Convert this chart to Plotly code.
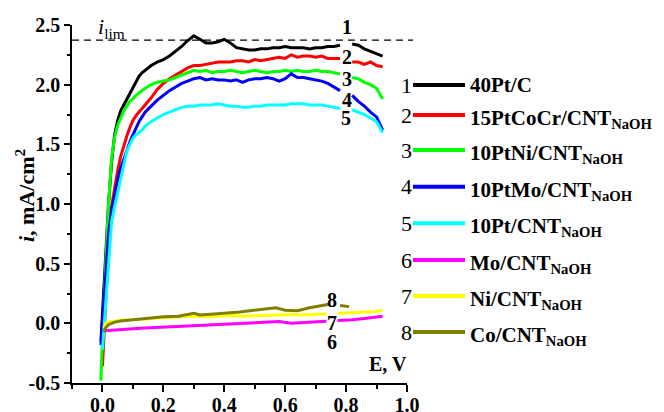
import plotly.graph_objects as go

# ---------------- data ----------------
E_pt = [-0.005, 0.0, 0.01, 0.02, 0.03, 0.04, 0.05, 0.06, 0.07, 0.08, 0.09, 0.10, 0.11, 0.12,
        0.13, 0.14, 0.16, 0.18, 0.20, 0.22, 0.24, 0.26, 0.28, 0.30, 0.32, 0.34, 0.36, 0.38,
        0.40, 0.42, 0.44, 0.46, 0.48, 0.50, 0.52, 0.54, 0.56, 0.58, 0.60, 0.62, 0.64, 0.66,
        0.68, 0.70, 0.72, 0.74, 0.76, 0.78, 0.80, 0.82, 0.84, 0.86, 0.88, 0.90, 0.92]

i_40PtC = [-0.15, 0.10, 0.55, 1.00, 1.35, 1.58, 1.70, 1.78, 1.83, 1.88, 1.93, 1.97, 2.03, 2.07,
           2.10, 2.12, 2.16, 2.19, 2.21, 2.24, 2.28, 2.32, 2.37, 2.41, 2.38, 2.35, 2.35, 2.36,
           2.38, 2.35, 2.31, 2.30, 2.29, 2.29, 2.30, 2.30, 2.31, 2.31, 2.32, 2.31, 2.31, 2.31,
           2.30, 2.31, 2.31, 2.32, 2.32, 2.33, None, 2.34, 2.33, 2.30, 2.28, 2.26, 2.24]

i_15PtCoCr = [None, -0.36, 0.10, 0.65, 0.98, 1.15, 1.28, 1.40, 1.49, 1.57, 1.64, 1.70, 1.74, 1.77,
              1.80, 1.83, 1.89, 1.96, 2.01, 2.05, 2.08, 2.11, 2.14, 2.16, 2.16, 2.17, 2.18, 2.19,
              2.19, 2.19, 2.20, 2.20, 2.19, 2.21, 2.20, 2.21, 2.22, 2.23, 2.22, 2.25, 2.23, 2.24,
              2.24, 2.23, 2.24, 2.22, 2.22, 2.22, None, 2.19, 2.19, 2.17, 2.19, 2.16, 2.15]

i_10PtNi = [-0.48, -0.10, 0.45, 1.00, 1.38, 1.56, 1.66, 1.72, 1.78, 1.82, 1.86, 1.88, 1.91, 1.93,
            1.95, 1.97, 2.00, 2.02, 2.03, 2.04, 2.06, 2.08, 2.10, 2.12, 2.11, 2.12, 2.10, 2.11,
            2.11, 2.12, 2.11, 2.10, 2.11, 2.12, 2.11, 2.10, 2.11, 2.11, 2.12, 2.11, 2.12, 2.11,
            2.11, 2.12, 2.11, 2.11, 2.10, 2.09, None, 2.06, 2.05, 2.02, 2.00, 1.97, 1.88]

i_10PtMo = [-0.18, 0.02, 0.40, 0.75, 0.95, 1.08, 1.20, 1.30, 1.38, 1.45, 1.52, 1.58, 1.64, 1.69,
            1.73, 1.77, 1.82, 1.87, 1.91, 1.95, 1.98, 2.01, 2.03, 2.05, 2.06, 2.04, 2.05, 2.04,
            2.04, 2.03, 2.04, 2.02, 2.04, 2.05, 2.05, 2.06, 2.05, 2.03, 2.05, 2.09, 2.06, 2.06,
            2.05, 2.04, 2.03, 2.01, 1.98, 1.95, None, 1.91, 1.86, 1.82, 1.77, 1.73, 1.62]

i_10Pt = [None, -0.22, 0.15, 0.55, 0.85, 0.98, 1.10, 1.22, 1.33, 1.44, 1.50, 1.55, 1.58, 1.60,
          1.62, 1.65, 1.69, 1.72, 1.75, 1.77, 1.79, 1.81, 1.82, 1.82, 1.83, 1.83, 1.83, 1.84,
          1.83, 1.82, 1.82, 1.81, 1.81, 1.82, 1.82, 1.83, 1.83, 1.83, 1.83, 1.84, 1.84, 1.84,
          1.83, 1.83, 1.83, 1.82, 1.81, 1.80, None, 1.79, 1.77, 1.75, 1.72, 1.69, 1.60]

E_low = [0.005, 0.01, 0.02, 0.04, 0.06, 0.08, 0.10, 0.14, 0.18, 0.22, 0.26, 0.30, 0.34, 0.38,
         0.42, 0.46, 0.50, 0.54, 0.58, 0.62, 0.66, 0.70, 0.74, 0.78, 0.82, 0.86, 0.90, 0.92]

i_Mo = [-0.07, -0.06, -0.06, -0.055, -0.05, -0.05, -0.045, -0.04, -0.035, -0.03, -0.025, -0.02,
        -0.015, -0.01, -0.005, 0.0, 0.005, 0.01, 0.015, 0.0, 0.005, 0.01, 0.02, 0.025, 0.03,
        0.04, 0.05, 0.06]

i_Ni = [-0.04, 0.0, 0.01, 0.02, 0.025, 0.03, 0.03, 0.035, 0.045, 0.05, 0.05, 0.06, 0.055, 0.06,
        0.065, 0.06, 0.065, 0.07, 0.07, 0.075, 0.07, 0.075, 0.08, 0.08, 0.085, 0.09, 0.10, 0.11]

E_co = [0.005, 0.01, 0.02, 0.04, 0.06, 0.10, 0.14, 0.20, 0.25, 0.30, 0.32, 0.36, 0.40, 0.45,
        0.50, 0.54, 0.57, 0.60, 0.64, 0.68, 0.70, 0.73, 0.745, 0.77, 0.78, 0.80, 0.81]
i_Co = [-0.07, -0.04, -0.01, 0.01, 0.02, 0.03, 0.04, 0.055, 0.06, 0.085, 0.07, 0.08, 0.085,
        0.095, 0.11, 0.12, 0.13, 0.11, 0.105, 0.13, 0.14, 0.155, 0.16, None, 0.15, 0.145, 0.14]

i_lim = 2.373

names = ["40Pt/C", "15PtCoCr/CNT<sub>NaOH</sub>", "10PtNi/CNT<sub>NaOH</sub>",
         "10PtMo/CNT<sub>NaOH</sub>", "10Pt/CNT<sub>NaOH</sub>", "Mo/CNT<sub>NaOH</sub>",
         "Ni/CNT<sub>NaOH</sub>", "Co/CNT<sub>NaOH</sub>"]
numbers = ["1", "2", "3", "4", "5", "6", "7", "8"]
colors = ["#000000", "#ff0000", "#00ff00", "#0000ff", "#00ffff", "#ff00ff", "#ffff00", "#808000"]

x_ticks = [0.0, 0.2, 0.4, 0.6, 0.8, 1.0]
x_ticktext = ["0.0", "0.2", "0.4", "0.6", "0.8", "1.0"]
y_ticks = [-0.5, 0.0, 0.5, 1.0, 1.5, 2.0, 2.5]
y_ticktext = ["-0.5", "0.0", "0.5", "1.0", "1.5", "2.0", "2.5"]

series = [(E_pt, i_40PtC), (E_pt, i_15PtCoCr), (E_pt, i_10PtNi), (E_pt, i_10PtMo),
          (E_pt, i_10Pt), (E_low, i_Mo), (E_low, i_Ni), (E_co, i_Co)]

# ---------------- figure ----------------
FONT = "Liberation Serif"
OFF = 8                      # page body margin offset
W, H = 664 - OFF, 412 - OFF
# plot area in page pixels
PL, PR, PT, PB = 72, 407, 25, 383
L, R, T, B = PL - OFF, PR - OFF, PT - OFF, PB - OFF


def pxx(xp):
    return (xp - OFF - L) / (R - L)


def pxy(yp):
    return (B - (yp - OFF)) / (B - T)


fig = go.Figure()
for (xs, ys), c, n in zip(series, colors, names):
    fig.add_trace(go.Scatter(x=xs, y=ys, mode="lines", name=n,
                             line=dict(color=c, width=3), connectgaps=False,
                             showlegend=False))

shapes = [dict(type="line", xref="paper", yref="y", x0=0, x1=pxx(413), y0=i_lim, y1=i_lim,
               line=dict(color="black", width=1.2, dash="7px,5px"), layer="below")]
annotations = []

# curve labels
curve_labels = [("1", 0.804, 2.48), ("2", 0.804, 2.23), ("3", 0.804, 2.05), ("4", 0.804, 1.87),
                ("5", 0.800, 1.72), ("8", 0.755, 0.195), ("7", 0.755, 0.0), ("6", 0.755, -0.155)]
for t, xv, yv in curve_labels:
    annotations.append(dict(x=xv, y=yv, xref="x", yref="y", text="<b>%s</b>" % t,
                            xanchor="center", yanchor="middle",
                            showarrow=False, font=dict(family=FONT, size=20, color="black"),
                            bgcolor="white" if t == "7" else "rgba(255,255,255,0)",
                            borderpad=0))

# legend (manual, number - line - label)
rows = [85, 115, 150, 186.7, 223.3, 260, 296, 332]
for k, (num, name, col) in enumerate(zip(numbers, names, colors)):
    yrow = rows[k]
    shapes.append(dict(type="line", xref="paper", yref="paper", x0=pxx(413), x1=pxx(465),
                       y0=pxy(yrow), y1=pxy(yrow), line=dict(color=col, width=4)))
    annotations.append(dict(x=pxx(414), y=pxy(yrow), xref="paper", yref="paper", text=num,
                            xanchor="right", yanchor="middle", showarrow=False,
                            font=dict(family=FONT, size=22, color="black")))
    has_sub = "<sub>" in name
    annotations.append(dict(x=pxx(468), y=pxy(yrow), xref="paper", yref="paper",
                            text="<b>%s</b>" % name, xanchor="left", yanchor="middle",
                            yshift=-4 if has_sub else 0, showarrow=False,
                            font=dict(family=FONT, size=21, color="black")))

# axis titles and i_lim label
annotations.append(dict(x=pxx(25), y=pxy(195), xref="paper", yref="paper",
                        text="<b><i>i</i>, mA/cm<sup>2</sup></b>", textangle=-90,
                        xanchor="center", yanchor="middle",
                        showarrow=False, font=dict(family=FONT, size=22, color="black")))
annotations.append(dict(x=pxx(388), y=pxy(364), xref="paper", yref="paper",
                        text="<b>E, V</b>", showarrow=False, xanchor="center", yanchor="middle",
                        font=dict(family=FONT, size=20, color="black")))
annotations.append(dict(x=pxx(96), y=pxy(44), xref="paper", yref="paper",
                        text="<i>i</i><sub>lim</sub>", xanchor="left", yanchor="bottom",
                        showarrow=False, font=dict(family=FONT, size=22, color="black")))

axis_common = dict(showgrid=False, zeroline=False, showline=True, linecolor="black",
                   linewidth=1.5, ticks="outside", tickcolor="black", tickwidth=1.5,
                   tickfont=dict(family=FONT, size=20, color="black"), mirror=False)

fig.update_layout(
    width=W, height=H,
    margin=dict(l=L, r=W - R, t=T, b=H - B, autoexpand=False),
    paper_bgcolor="white", plot_bgcolor="white",
    showlegend=False,
    xaxis=dict(range=[-0.1, 1.0], tickvals=x_ticks,
               ticktext=["<b>%s</b>" % s for s in x_ticktext], ticklen=7,
               ticklabelstandoff=-4,
               minor=dict(ticks="outside", ticklen=4, dtick=0.1, tick0=0.0,
                          tickcolor="black", tickwidth=1.5),
               **axis_common),
    yaxis=dict(range=[-0.5, 2.5], tickvals=y_ticks,
               ticktext=["<b>%s</b>" % s for s in y_ticktext], ticklen=6,
               minor=dict(ticks="outside", ticklen=3, dtick=0.25, tick0=0.0,
                          tickcolor="black", tickwidth=1.5),
               **axis_common),
    shapes=shapes,
    annotations=annotations,
)

fig.write_html("out.html")
